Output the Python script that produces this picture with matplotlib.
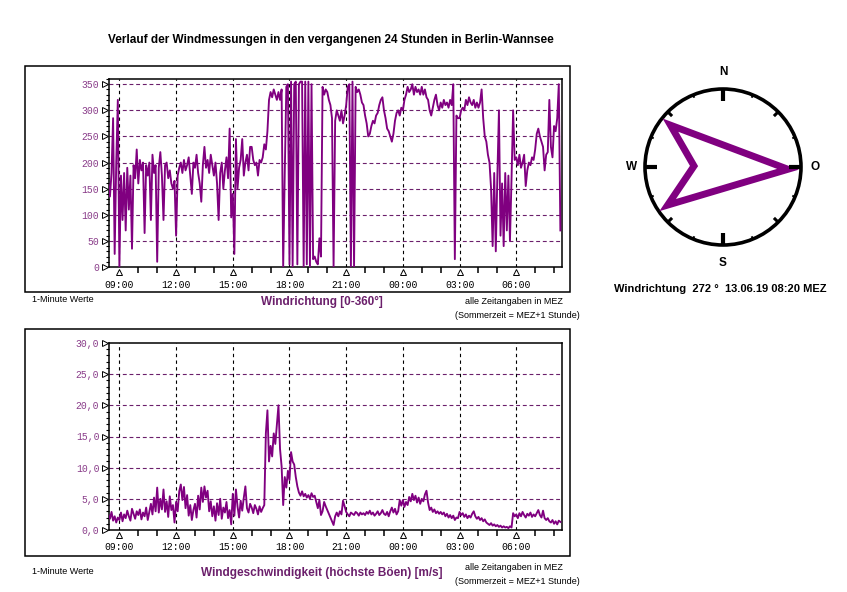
import numpy as np
import matplotlib
matplotlib.use("Agg")
import matplotlib.pyplot as plt
import matplotlib.transforms as mtransforms
from matplotlib.patches import Rectangle, Circle, Polygon
from matplotlib.ticker import MultipleLocator

plt.rcParams['font.family'] = ['Liberation Sans', 'DejaVu Sans']

# Messwerte im 5-Minuten-Raster, 12.06.19 08:25 bis 13.06.19 08:20 (Stunden seit 12.06. 00:00)
start_hour = 8 + 25 / 60
step_hours = 5 / 60

# Windrichtung [Grad]
dir_0825 = [160, 135, 180, 285, 25, 200, 320]
dir_0900 = [
    0, 175, 90, 180, 70, 190, 110, 175, 35, 195, 170, 225,
    160, 205, 185, 200, 65, 195, 175, 200, 90, 215, 180, 195,
    10, 190, 220, 175, 90, 195, 200, 170, 185, 160, 150, 165,
]
dir_1200 = [
    60, 175, 190, 200, 180, 205, 185, 195, 210, 175, 140, 200,
    190, 215, 180, 160, 125, 195, 230, 190, 205, 180, 215, 195,
    175, 200, 160, 90, 180, 200, 150, 185, 210, 170, 265, 95,
]
dir_1500 = [
    140, 25, 245, 150, 190, 205, 245, 175, 200, 215, 185, 230,
    230, 205, 195, 200, 175, 205, 200, 210, 235, 225, 260, 320,
    335, 325, 340, 330, 320, 335, 320, 340, 0, 180, 345, 350,
]
dir_1800 = [
    5, 355, 0, 350, 355, 5, 350, 355, 355, 0, 355, 5,
    355, 0, 350, 15, 20, 10, 5, 55, 20, 345, 330, 340,
    335, 320, 310, 285, 0, 280, 300, 290, 280, 300, 275, 290,
]
dir_2100 = [
    310, 345, 350, 0, 355, 0, 345, 335, 340, 330, 315, 310,
    290, 275, 250, 255, 270, 280, 275, 290, 295, 310, 320, 325,
    300, 285, 265, 260, 250, 240, 255, 280, 295, 300, 290, 305,
]
dir_0000 = [
    300, 320, 330, 345, 335, 340, 350, 330, 345, 335, 340, 330,
    345, 330, 340, 325, 320, 300, 290, 305, 320, 330, 310, 300,
    315, 305, 320, 310, 315, 305, 320, 310, 350, 15, 290, 285,
]
dir_0300 = [
    285, 300, 305, 300, 320, 310, 325, 315, 310, 320, 305, 315,
    305, 315, 340, 285, 250, 240, 215, 200, 150, 40, 180, 30,
    175, 300, 60, 160, 40, 180, 70, 175, 50, 170, 300, 205,
]
dir_0600 = [
    210, 195, 215, 190, 200, 215, 155, 185, 200, 195, 210, 205,
    225, 255, 265, 250, 240, 230, 185, 215, 220, 320, 230, 210,
    270, 260, 285, 350, 70,
]

# Windgeschwindigkeit (hoechste Boeen) [m/s]
spd_0825 = [2.5, 1.8, 2.9, 1.5, 2.2, 1.2, 2.0]
spd_0900 = [
    1.6, 2.8, 1.4, 2.5, 1.9, 3.1, 2.2, 1.5, 3.4, 2.6, 1.8, 3.0,
    2.4, 3.3, 1.7, 2.8, 2.2, 3.6, 1.6, 2.9, 4.2, 2.5, 5.2, 3.0,
    6.8, 2.8, 5.0, 3.3, 6.5, 2.9, 4.6, 2.1, 5.4, 3.2, 4.0, 1.2,
]
spd_1200 = [
    4.5, 3.0, 6.2, 7.3, 4.8, 6.9, 3.5, 5.6, 2.3, 4.0, 1.6, 3.2,
    4.2, 2.0, 5.5, 3.3, 6.8, 4.5, 7.0, 5.2, 6.3, 3.0, 4.6, 2.2,
    3.8, 1.5, 4.3, 2.4, 5.0, 1.8, 3.6, 2.8, 4.5, 1.9, 3.2, 0.9,
]
spd_1500 = [
    5.8, 2.3, 6.5, 3.8, 2.0, 4.7, 3.1, 5.2, 7.0, 3.5, 2.8, 4.2,
    3.6, 2.7, 4.0, 3.4, 2.5, 3.8, 2.9, 3.5, 4.0, 15.5, 19.2, 11.0,
    13.5, 11.8, 15.5, 13.8, 16.8, 20.0, 13.0, 10.2, 4.0, 8.5, 6.8, 9.5,
]
spd_1800 = [
    8.0, 12.5, 11.0, 10.5, 8.5, 7.0, 6.0, 5.5, 6.2, 5.4, 5.8, 5.2,
    5.6, 5.0, 5.9, 5.3, 5.5, 4.5, 3.5, 4.8, 2.4, 3.0, 4.5, 3.8,
    3.2, 2.6, 2.0, 1.4, 0.8, 2.2, 2.8, 2.2, 3.0, 2.5, 4.7, 3.8,
]
spd_2100 = [
    2.9, 2.5, 2.2, 2.8, 2.6, 2.4, 2.9, 2.7, 2.3, 2.8, 2.5, 2.7,
    2.4, 2.9, 2.6, 3.1, 2.5, 2.8, 2.3, 2.6, 3.0, 2.4, 2.7, 3.2,
    2.6, 2.4, 2.9, 2.2, 3.0, 3.6, 2.8, 3.4, 2.5, 3.0, 4.8, 3.9,
]
spd_0000 = [
    4.8, 3.7, 4.5, 4.0, 5.3, 4.6, 5.8, 4.8, 5.5, 4.4, 5.2, 4.2,
    5.0, 4.6, 5.7, 6.3, 4.4, 3.2, 3.6, 2.9, 3.3, 2.7, 3.0, 2.6,
    2.9, 2.5, 2.8, 2.2, 2.6, 2.0, 2.4, 1.9, 2.3, 1.6, 2.0, 1.9,
]
spd_0300 = [
    2.9, 2.4, 2.7, 2.1, 2.5, 1.9, 2.3, 2.0, 2.6, 3.0, 2.2, 1.8,
    2.1, 1.6, 1.9, 1.4, 1.7, 1.2, 1.0, 0.8, 1.1, 0.7, 0.9, 0.6,
    0.8, 0.5, 0.7, 0.4, 0.6, 0.4, 0.5, 0.3, 0.6, 0.4, 2.7, 2.2,
]
spd_0600 = [
    2.5, 1.9, 2.7, 2.2, 2.9, 2.4, 2.0, 2.6, 2.3, 2.8, 2.1, 2.5,
    2.2, 2.7, 3.2, 2.4, 2.0, 3.1, 1.9, 1.6, 1.9, 1.4, 1.2, 1.6,
    1.0, 1.4, 0.9, 1.5, 1.3,
]

x_ticks = [9, 12, 15, 18, 21, 24, 27, 30]
x_tick_labels = ["09:00", "12:00", "15:00", "18:00", "21:00", "00:00", "03:00", "06:00"]
dir_ticks = [0, 50, 100, 150, 200, 250, 300, 350]
spd_ticks = [0, 5, 10, 15, 20, 25, 30]
spd_tick_labels = ["0,0", "5,0", "10,0", "15,0", "20,0", "25,0", "30,0"]

current_dir = 272
current_label = "Windrichtung  272 °  13.06.19 08:20 MEZ"

wind_dir = np.array(dir_0825 + dir_0900 + dir_1200 + dir_1500 + dir_1800
                    + dir_2100 + dir_0000 + dir_0300 + dir_0600, dtype=float)
wind_spd = np.array(spd_0825 + spd_0900 + spd_1200 + spd_1500 + spd_1800
                    + spd_2100 + spd_0000 + spd_0300 + spd_0600, dtype=float)
hours = start_hour + np.arange(len(wind_dir)) * step_hours

line_purple = '#800080'
grid_purple = '#6b1f6b'
label_purple = '#8a3d8a'

W, H = 847, 592
fig = plt.figure(figsize=(W / 100, H / 100), dpi=100)
fig.patch.set_facecolor('white')


def fx(px):
    return px / W


def fy(py):
    return 1 - py / H


def setup_axes(ax, ymax, yticks, ylabels, yminor):
    ax.set_xlim(8.45, 32.42)
    ax.set_ylim(0, ymax)
    ax.set_xticks(x_ticks)
    ax.set_xticklabels(x_tick_labels)
    ax.xaxis.set_minor_locator(MultipleLocator(1))
    ax.set_yticks(yticks)
    ax.set_yticklabels(ylabels)
    ax.yaxis.set_minor_locator(MultipleLocator(yminor))
    ax.tick_params(axis='x', which='major', length=0, pad=9, labelsize=7, labelcolor='black')
    ax.tick_params(axis='x', which='minor', length=4.5, width=1.1, direction='out')
    ax.tick_params(axis='y', which='major', length=0, pad=7, labelsize=7, labelcolor=label_purple)
    ax.tick_params(axis='y', which='minor', length=2.5, width=0.8, direction='out')
    for lbl in ax.get_xticklabels() + ax.get_yticklabels():
        lbl.set_fontfamily('Liberation Mono')
    for s in ax.spines.values():
        s.set_linewidth(1.1)
    for y in yticks:
        if 0 < y < ymax:
            ax.axhline(y, color=grid_purple, lw=0.8, ls=(0, (3.5, 2.5)), zorder=1)
    for x in x_ticks:
        ax.axvline(x, color='black', lw=0.8, ls=(0, (3, 3)), zorder=1)
    # kleine Dreiecke an den Hauptmarken
    tx = mtransforms.offset_copy(ax.get_xaxis_transform(), fig=fig, y=-4.5, units='dots')
    ax.plot(x_ticks, [0] * len(x_ticks), ls='none', marker='^', ms=4.5, mfc='white',
            mec='black', mew=0.7, transform=tx, clip_on=False, zorder=5)
    ty = mtransforms.offset_copy(ax.get_yaxis_transform(), fig=fig, x=-4.5, units='dots')
    ax.plot([0] * len(yticks), yticks, ls='none', marker='>', ms=4.5, mfc='white',
            mec='black', mew=0.7, transform=ty, clip_on=False, zorder=5)


# Windrichtung
ax1 = fig.add_axes([fx(109), fy(267), fx(562) - fx(109), fy(79) - fy(267)])
ax1.plot(hours, wind_dir, color=line_purple, lw=1.35, zorder=3)
setup_axes(ax1, 360, dir_ticks, [str(v) for v in dir_ticks], 10)

# Windgeschwindigkeit
ax2 = fig.add_axes([fx(109), fy(530), fx(562) - fx(109), fy(343) - fy(530)])
ax2.plot(hours, wind_spd, color=line_purple, lw=1.35, zorder=3)
setup_axes(ax2, 30, spd_ticks, spd_tick_labels, 1)

# Rahmen
fig.patches.append(Rectangle((fx(25), fy(292)), fx(570) - fx(25), fy(66) - fy(292),
                             transform=fig.transFigure, fill=False, lw=1.1, ec='black'))
fig.patches.append(Rectangle((fx(25), fy(556)), fx(570) - fx(25), fy(329) - fy(556),
                             transform=fig.transFigure, fill=False, lw=1.1, ec='black'))

# Texte
fig.text(fx(331), fy(40), "Verlauf der Windmessungen in den vergangenen 24 Stunden in Berlin-Wannsee",
         ha='center', va='center', fontsize=8.5, fontweight='bold')
for y0, name in [(302, "Windrichtung [0-360°]"), (573, "Windgeschwindigkeit (höchste Böen) [m/s]")]:
    fig.text(fx(32), fy(y0 - 2), "1-Minute Werte", ha='left', va='center', fontsize=6.5)
    fig.text(fx(322), fy(y0), name, ha='center', va='center', fontsize=8.5,
             fontweight='bold', color=grid_purple)
for y0 in [302, 568]:
    fig.text(fx(514), fy(y0), "alle Zeitangaben in MEZ", ha='center', va='center', fontsize=6.5)
    fig.text(fx(517), fy(y0 + 13), "(Sommerzeit = MEZ+1 Stunde)", ha='center', va='center', fontsize=6.5)

# Kompass
axc = fig.add_axes([fx(623), fy(267), fx(823) - fx(623), fy(67) - fy(267)])
axc.set_xlim(-100, 100)
axc.set_ylim(-100, 100)
axc.set_aspect('equal')
axc.axis('off')
R = 78
axc.add_patch(Circle((0, 0), R, fill=False, lw=2.6, ec='black'))
for b in np.arange(0, 360, 22.5):
    rad = np.deg2rad(b)
    if b % 90 == 0:
        ln, lw = 12, 3.0
    elif b % 45 == 0:
        ln, lw = 6, 2.2
    else:
        ln, lw = 3, 1.4
    axc.plot([R * np.sin(rad), (R - ln) * np.sin(rad)], [R * np.cos(rad), (R - ln) * np.cos(rad)],
             color='black', lw=lw, solid_capstyle='butt')
for lbl, (cx, cy) in [("N", (0, 95)), ("S", (0, -96)), ("W", (-91, 0)), ("O", (92, 0))]:
    axc.text(cx, cy, lbl, ha='center', va='center', fontsize=8.5, fontweight='bold')

# Pfeil in Stroemungsrichtung (kommt aus current_dir)
shape = np.array([[0, 65], [40, -54], [0, -29], [-40, -54]], dtype=float)
th = np.deg2rad(current_dir + 180)
rot = np.array([[np.cos(th), np.sin(th)], [-np.sin(th), np.cos(th)]])
pts = shape @ rot.T
axc.add_patch(Polygon(pts, closed=True, fill=False, ec=line_purple, lw=5, joinstyle='miter'))

fig.text(fx(720), fy(289), current_label, ha='center', va='center', fontsize=8, fontweight='bold')

fig.savefig("out.png", dpi=100)
